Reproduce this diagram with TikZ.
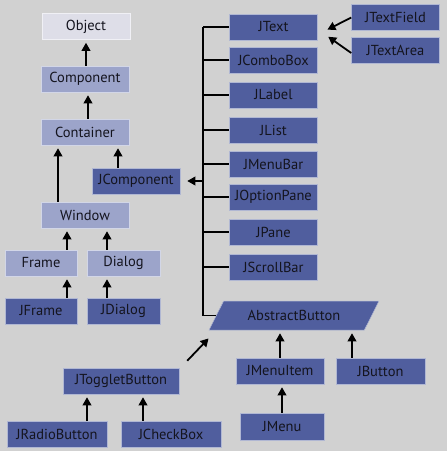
\documentclass[tikz,border=0pt]{standalone}
\usepackage{fontspec}
\setmainfont{PT Sans}
\usepackage{tikz}
\usetikzlibrary{shapes.geometric, arrows.meta, calc}
\definecolor{swingbg}{RGB}{209, 209, 209}
\definecolor{swingpale}{RGB}{222, 222, 232}
\definecolor{swingmid}{RGB}{156, 164, 202}
\definecolor{swingdark}{RGB}{80, 94, 158}
\definecolor{swingtext}{RGB}{20, 20, 30}

\begin{document}
\begin{tikzpicture}[x=1pt, y=-1pt,
    box/.style={rectangle, fill=#1, draw=white!55!#1, line width=0.5pt,
        minimum width=88pt, minimum height=26pt, inner sep=2pt,
        font=\fontsize{14.5}{17}\selectfont, text=swingtext},
    arr/.style={-{Triangle[length=8pt, width=8.5pt]}, line width=1.8pt, shorten >=3pt},
    bus/.style={line width=1.8pt}
]

% Background
\fill[swingbg] (0, 0) rectangle (447, 451);
\useasboundingbox (0, 0) rectangle (447, 451);

% AWT side (left)
\node[box=swingpale] (obj) at (86, 26.5) {Object};
\node[box=swingmid] (comp) at (85, 79) {Component};
\node[box=swingmid] (cont) at (85, 132) {Container};
\node[box=swingdark] (jcomp) at (136, 181) {JComponent};
\node[box=swingmid] (win) at (85, 215) {Window};
\node[box=swingmid, minimum width=72pt] (frame) at (41, 263) {Frame};
\node[box=swingmid, minimum width=73pt] (dialog) at (123.5, 263) {Dialog};
\node[box=swingdark, minimum width=72pt] (jframe) at (41, 311) {JFrame};
\node[box=swingdark, minimum width=73pt] (jdialog) at (123.5, 311) {JDialog};

% Button side (bottom left)
\node[box=swingdark, minimum width=116pt] (tog) at (121, 381) {JToggletButton};
\node[box=swingdark, minimum width=100pt] (radio) at (57, 434) {JRadioButton};
\node[box=swingdark, minimum width=100pt] (check) at (171, 434) {JCheckBox};

% JComponent subclasses (right column)
\node[box=swingdark] (jtext) at (273.5, 27) {JText};
\node[box=swingdark] (jcombo) at (273.5, 60) {JComboBox};
\node[box=swingdark] (jlabel) at (273.5, 95) {JLabel};
\node[box=swingdark] (jlist) at (273.5, 130) {JList};
\node[box=swingdark] (jmenubar) at (273.5, 164) {JMenuBar};
\node[box=swingdark] (joption) at (273.5, 197) {JOptionPane};
\node[box=swingdark] (jpane) at (273.5, 232) {JPane};
\node[box=swingdark] (jscroll) at (273.5, 267) {JScrollBar};
\node[box=swingdark] (tfield) at (395.5, 17.5) {JTextField};
\node[box=swingdark] (tarea) at (395.5, 50) {JTextArea};

% AbstractButton and its children
\node[box=swingdark, shape=trapezium, trapezium left angle=55.4, trapezium right angle=124.6,
    trapezium stretches=true, minimum width=170pt, minimum height=29pt] (ab) at (294, 315.5) {AbstractButton};
\node[box=swingdark] (jmitem) at (280, 371) {JMenuItem};
\node[box=swingdark, minimum width=89pt] (jbutton) at (380.5, 371) {JButton};
\node[box=swingdark, minimum width=84pt, minimum height=27pt] (jmenu) at (282, 426.5) {JMenu};

% Inheritance arrows
\draw[arr] ([xshift=1pt]comp.north) -- ([xshift=1pt]comp.north |- obj.south);
\draw[arr] ([xshift=3pt]cont.north) -- ([xshift=3pt]cont.north |- comp.south);
\coordinate (wa) at ([xshift=-27pt]win.north);
\draw[arr] (wa) -- (wa |- cont.south);
\coordinate (ja) at ([xshift=-18pt]jcomp.north);
\draw[arr] (ja) -- (ja |- cont.south);
\coordinate (fa) at ([xshift=26pt]frame.north);
\draw[arr] (fa) -- (fa |- win.south);
\coordinate (da) at ([xshift=-16.5pt]dialog.north);
\draw[arr] (da) -- (da |- win.south);
\coordinate (jfa) at ([xshift=26pt]jframe.north);
\draw[arr] (jfa) -- (jfa |- frame.south);
\coordinate (jda) at ([xshift=-16.5pt]jdialog.north);
\draw[arr] (jda) -- (jda |- dialog.south);
\coordinate (ra) at ([xshift=30pt]radio.north);
\draw[arr] (ra) -- (ra |- tog.south);
\coordinate (ca) at ([xshift=-28pt]check.north);
\draw[arr] (ca) -- (ca |- tog.south);
\draw[arr] ([shift={(8,-7)}]tog.north east) -- ([shift={(2,6)}]ab.bottom left corner);
\draw[arr] (jmitem.north) -- (jmitem.north |- ab.south);
\coordinate (ba) at ([xshift=-28.5pt]jbutton.north);
\draw[arr] (ba) -- (ba |- ab.south);
\draw[arr] (jmenu.north) -- (jmenu.north |- jmitem.south);
\draw[arr] (tfield.west) -- ([shift={(7,4)}]jtext.east);
\draw[arr] ([yshift=-3pt]tarea.west) -- ([shift={(8,8)}]jtext.east);

% Bus to JComponent
\coordinate (bus) at (203, 0);
\draw[bus] (jtext.west -| bus) -- (ab.west -| bus) -- (ab.west);
\foreach \n in {jtext, jcombo, jlabel, jlist, jmenubar, joption, jpane, jscroll}
    \draw[bus] (\n.west -| bus) -- (\n.west);
\draw[arr, shorten >=7pt] (jcomp.east -| bus) -- (jcomp.east);

\end{tikzpicture}
\end{document}
